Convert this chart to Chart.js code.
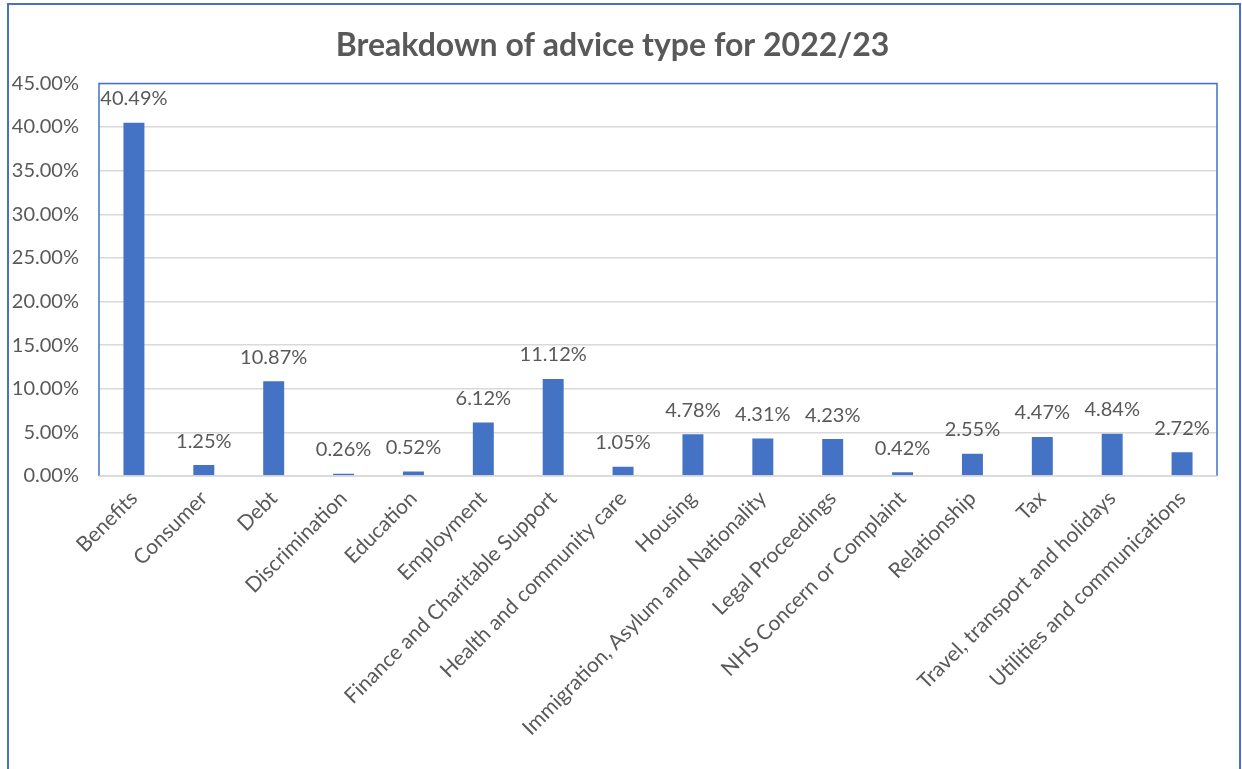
<!DOCTYPE html>
<html>
<head>
<meta charset="utf-8">
<script src="https://cdn.jsdelivr.net/npm/chart.js@4/dist/chart.umd.min.js"></script>
<style>
  html, body { margin: 0; padding: 0; background: #fff; }
  #wrap { width: 1242px; height: 769px; }
</style>
</head>
<body>
<div id="wrap"><canvas id="c" width="1242" height="769"></canvas></div>
<script>
/* ── Data ───────────────────────────────────────────── */
const CATEGORIES = [
  'Benefits', 'Consumer', 'Debt', 'Discrimination', 'Education', 'Employment',
  'Finance and Charitable Support', 'Health and community care', 'Housing',
  'Immigration, Asylum and Nationality', 'Legal Proceedings',
  'NHS Concern or Complaint', 'Relationship', 'Tax',
  'Travel, transport and holidays', 'Utilities and communications',
];
const SHARE = [
  40.49, 1.25, 10.87, 0.26, 0.52, 6.12, 11.12, 1.05,
  4.78, 4.31, 4.23, 0.42, 2.55, 4.47, 4.84, 2.72,
];
const Y_TICKS = [0, 5, 10, 15, 20, 25, 30, 35, 40, 45];

const TEXT = '#595959';
const BLUE = '#4472C4';
const FONT = "Lato, 'Open Sans', sans-serif";

Chart.defaults.font.family = FONT;
Chart.defaults.color = TEXT;

/* outer frame + plot frame */
const framePlugin = {
  id: 'frame',
  beforeDraw(chart) {
    const c = chart.ctx;
    c.save();
    c.fillStyle = '#fff';
    c.fillRect(0, 0, chart.width, chart.height);
    c.strokeStyle = BLUE;
    c.lineWidth = 2;
    c.beginPath();
    c.moveTo(8, chart.height + 5);
    c.lineTo(8, 4);
    c.lineTo(1240, 4);
    c.lineTo(1240, chart.height + 5);
    c.stroke();
    c.restore();
  },
  afterDraw(chart) {
    const a = chart.chartArea, c = chart.ctx;
    c.save();
    c.strokeStyle = BLUE;
    c.lineWidth = 1.5;
    c.beginPath();
    c.moveTo(a.left, a.bottom);
    c.lineTo(a.left, a.top);
    c.lineTo(a.right, a.top);
    c.lineTo(a.right, a.bottom);
    c.stroke();
    c.strokeStyle = '#d9d9d9';
    c.beginPath();
    c.moveTo(a.left, a.bottom);
    c.lineTo(a.right, a.bottom);
    c.stroke();
    c.restore();
  },
};

/* value labels above bars */
const labelPlugin = {
  id: 'vlabels',
  afterDatasetsDraw(chart) {
    const c = chart.ctx;
    const meta = chart.getDatasetMeta(0);
    c.save();
    c.font = '20px ' + FONT;
    c.fillStyle = TEXT;
    c.textAlign = 'center';
    c.textBaseline = 'middle';
    meta.data.forEach((bar, i) => {
      c.fillText(SHARE[i].toFixed(2) + '%', bar.x, bar.y - 24);
    });
    c.restore();
  },
};

new Chart(document.getElementById('c'), {
  type: 'bar',
  data: {
    labels: CATEGORIES,
    datasets: [{
      data: SHARE,
      backgroundColor: BLUE,
      barPercentage: 0.3,
      categoryPercentage: 1,
    }],
  },
  options: {
    responsive: false,
    animation: false,
    layout: { padding: { left: 8, right: 25, top: 0, bottom: 0 } },
    plugins: {
      legend: { display: false },
      tooltip: { enabled: false },
      title: {
        display: true,
        text: 'Breakdown of advice type for 2022/23',
        color: TEXT,
        font: { size: 32, weight: 'bold' },
        padding: { top: 26, bottom: 19 },
      },
    },
    scales: {
      x: {
        grid: { display: false, drawTicks: false },
        border: { display: false },
        ticks: {
          color: TEXT, font: { size: 21 },
          maxRotation: 45, minRotation: 45, autoSkip: false, padding: 10,
        },
        afterFit: s => { s.height = 293; },
      },
      y: {
        min: 0, max: 45,
        afterBuildTicks: s => { s.ticks = Y_TICKS.map(v => ({ value: v })); },
        grid: { color: '#d9d9d9', lineWidth: 1.5, drawTicks: false },
        border: { display: false },
        ticks: {
          color: TEXT, font: { size: 20 }, padding: 20,
          callback: v => v.toFixed(2) + '%',
        },
        afterFit: s => { s.width = 91; },
      },
    },
  },
  plugins: [framePlugin, labelPlugin],
});
</script>
</body>
</html>
